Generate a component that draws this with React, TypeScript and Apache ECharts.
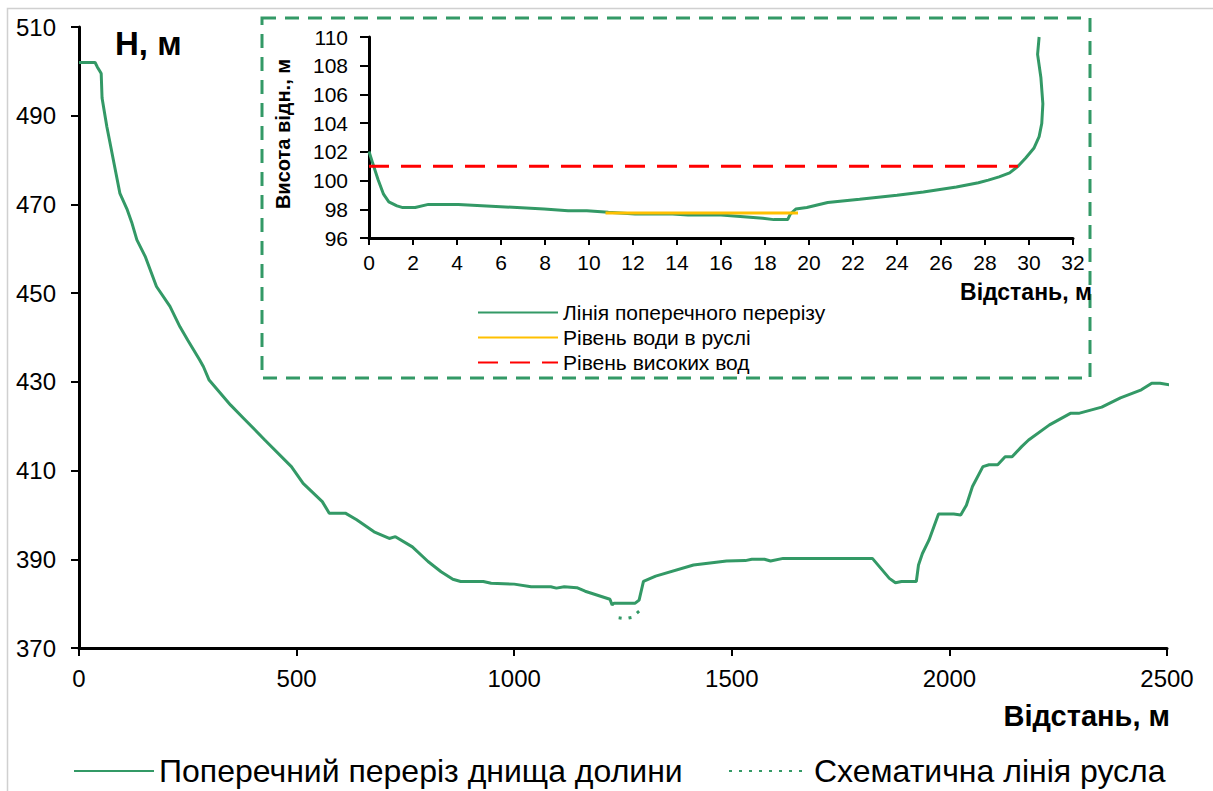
import React, { useEffect, useRef } from "react";
import * as echarts from "echarts";

// ---- Main valley cross-section ----
const valleyDist = [0, 37, 42, 48, 51, 53, 64, 71, 83, 94, 110, 121, 133, 152, 178, 209, 232, 250, 277, 286, 299, 348, 378, 427, 488, 515, 559, 575, 612, 638, 678, 713, 727, 766, 802, 832, 859, 877, 929, 947, 1000, 1039, 1084, 1097, 1115, 1144, 1163, 1220, 1225, 1229, 1278, 1287, 1297, 1325, 1412, 1488, 1531, 1546, 1575, 1589, 1618, 1823, 1862, 1876, 1890, 1924, 1929, 1938, 1953, 1975, 2010, 2026, 2039, 2053, 2077, 2091, 2111, 2128, 2144, 2166, 2182, 2230, 2278, 2297, 2350, 2393, 2441, 2465, 2484, 2508];
const valleyElev = [502, 502, 501, 500, 499.5, 494, 487.5, 484, 478, 472.5, 469, 466, 462, 458.3, 451.5, 447, 442.4, 439.4, 435, 433.4, 430.4, 424.8, 421.8, 416.9, 410.9, 407.1, 403, 400.4, 400.4, 398.9, 396.2, 394.7, 395.1, 392.8, 389.5, 387.2, 385.5, 385, 385, 384.6, 384.4, 383.8, 383.8, 383.5, 383.8, 383.6, 382.8, 381, 379.7, 380.1, 380.1, 380.8, 385, 386.2, 388.7, 389.6, 389.7, 390, 390, 389.6, 390.2, 390.2, 385.7, 384.7, 385, 385, 388.7, 391.3, 394.3, 400.2, 400.2, 400, 402.2, 406.4, 410.9, 411.3, 411.3, 413.1, 413.1, 415.4, 416.9, 420.3, 422.9, 422.9, 424.3, 426.4, 428.2, 429.7, 429.7, 429.3];

// ---- Schematic channel line ----
const channelDist = [1240, 1255, 1270, 1287];
const channelElev = [376.8, 376.6, 376.9, 378.3];

// ---- Inset: channel cross-section ----
const insetDist = [0, 0.17, 0.41, 0.66, 0.9, 1.27, 1.5, 2.1, 2.7, 4.06, 5.77, 7.96, 9.05, 9.9, 10.88, 12.1, 13.8, 14.5, 16, 17.9, 18.4, 19.03, 19.15, 19.4, 19.9, 20.85, 22.3, 24, 25.2, 26.7, 27.7, 28.15, 28.64, 29.12, 29.5, 29.85, 30.22, 30.46, 30.58, 30.63, 30.54, 30.39, 30.46];
const insetElev = [102.03, 101.2, 100.08, 99.05, 98.52, 98.24, 98.13, 98.13, 98.34, 98.34, 98.2, 98.02, 97.9, 97.9, 97.79, 97.67, 97.67, 97.6, 97.6, 97.37, 97.28, 97.28, 97.67, 98.02, 98.13, 98.47, 98.7, 98.98, 99.2, 99.55, 99.85, 100.03, 100.26, 100.54, 101.0, 101.57, 102.25, 103.06, 103.97, 105.35, 107.18, 108.79, 110];
const waterDist = [10.75, 19.5];
const waterElev = [97.75, 97.75];
const floodDist = [0, 29.5];
const floodElev = [101, 101];

// ---- Axes ticks ----
const mainXTicks = { min: 0, max: 2500, interval: 500 };
const mainYTicks = { min: 370, max: 510, interval: 20 };
const insetXTicks = { min: 0, max: 32, interval: 2 };
const insetYTicks = { min: 96, max: 110, interval: 2 };

const names = {
  valley: "Поперечний переріз днища долини",
  channel: "Схематична лінія русла",
  inset: "Лінія поперечного перерізу",
  water: "Рівень води в руслі",
  flood: "Рівень високих вод",
};

const GREEN = "#339966";
const YELLOW = "#FFC000";
const RED = "#FF0000";
const FONT = "Liberation Sans, Arial, sans-serif";

const zip = (a: number[], b: number[]) => a.map((v, i) => [v, b[i]]);
const plain = (v: number) => String(v);

export default function App() {
  const ref = useRef<HTMLDivElement>(null);
  useEffect(() => {
    if (!ref.current) return;
    const chart = echarts.init(ref.current, undefined, { renderer: "svg" });
    const axisCommon = {
      axisLine: { show: true, lineStyle: { color: "#000", width: 3 } },
      axisTick: { show: true, inside: false, length: 8, lineStyle: { color: "#000", width: 2 } },
      splitLine: { show: false },
    };
    const legendCommon = {
      itemWidth: 80,
      itemHeight: 14,
      itemStyle: { opacity: 0 },
      selectedMode: false,
      padding: 0,
    };
    chart.setOption({
      animation: false,
      backgroundColor: "#fff",
      textStyle: { fontFamily: FONT },
      grid: [
        { left: 79, top: 27, right: 46, bottom: 143 },
        { left: 369, top: 37, width: 704, height: 201 },
      ],
      xAxis: [
        {
          type: "value", gridIndex: 0, ...mainXTicks, ...axisCommon,
          axisLabel: { fontSize: 24, color: "#000", margin: 18, fontFamily: FONT, formatter: plain },
        },
        {
          type: "value", gridIndex: 1, ...insetXTicks, ...axisCommon,
          axisTick: { show: true, length: 7, lineStyle: { color: "#000", width: 2 } },
          axisLabel: { fontSize: 21, color: "#000", margin: 14, fontFamily: FONT, formatter: plain },
        },
      ],
      yAxis: [
        {
          type: "value", gridIndex: 0, ...mainYTicks, ...axisCommon,
          axisLabel: { fontSize: 24, color: "#000", margin: 23, fontFamily: FONT, formatter: plain },
        },
        {
          type: "value", gridIndex: 1, ...insetYTicks, ...axisCommon,
          axisTick: { show: true, length: 9, lineStyle: { color: "#000", width: 2 } },
          axisLabel: { fontSize: 21, color: "#000", margin: 21, fontFamily: FONT, formatter: plain },
        },
      ],
      legend: [
        {
          ...legendCommon, left: 73, top: 755,
          data: [names.valley],
          textStyle: { fontSize: 32, color: "#000", fontFamily: FONT },
        },
        {
          ...legendCommon, left: 728, top: 755,
          data: [names.channel],
          textStyle: { fontSize: 32, color: "#000", fontFamily: FONT },
        },
        {
          ...legendCommon, left: 477, top: 302, orient: "vertical", itemHeight: 12, itemGap: 4,
          data: [names.inset, names.water, names.flood],
          textStyle: { fontSize: 21, color: "#000", fontFamily: FONT },
        },
      ],
      series: [
        {
          name: names.valley, type: "line", xAxisIndex: 0, yAxisIndex: 0,
          data: zip(valleyDist, valleyElev), symbol: "none",
          lineStyle: { color: GREEN, width: 3 }, itemStyle: { color: GREEN },
        },
        {
          name: names.channel, type: "line", xAxisIndex: 0, yAxisIndex: 0,
          data: zip(channelDist, channelElev), symbol: "none",
          lineStyle: { color: GREEN, width: 3, type: [3, 7] }, itemStyle: { color: GREEN },
        },
        {
          name: names.inset, type: "line", xAxisIndex: 1, yAxisIndex: 1,
          data: zip(insetDist, insetElev), symbol: "none",
          lineStyle: { color: GREEN, width: 3 }, itemStyle: { color: GREEN },
        },
        {
          name: names.water, type: "line", xAxisIndex: 1, yAxisIndex: 1,
          data: zip(waterDist, waterElev), symbol: "none",
          lineStyle: { color: YELLOW, width: 3 }, itemStyle: { color: YELLOW },
        },
        {
          name: names.flood, type: "line", xAxisIndex: 1, yAxisIndex: 1,
          data: zip(floodDist, floodElev), symbol: "none",
          lineStyle: { color: RED, width: 3, type: [20, 12] }, itemStyle: { color: RED },
        },
      ],
      graphic: [
        {
          type: "rect", silent: true, z: -1,
          shape: { x: 7.5, y: 8.5, width: 1400, height: 1000 },
          style: { fill: "none", stroke: "#d0d0d0", lineWidth: 1.5 },
        },
        {
          type: "rect", silent: true,
          shape: { x: 262, y: 18, width: 828, height: 360 },
          style: { fill: "none", stroke: GREEN, lineWidth: 3, lineDash: [14, 9] },
        },
        {
          type: "text", x: 115, y: 43,
          style: { text: "H, м", font: `bold 33px ${FONT}`, fill: "#000", verticalAlign: "middle" },
        },
        {
          type: "text", x: 1170, y: 716,
          style: { text: "Відстань, м", font: `bold 29px ${FONT}`, fill: "#000", align: "right", verticalAlign: "middle" },
        },
        {
          type: "text", x: 1092, y: 292,
          style: { text: "Відстань, м", font: `bold 23px ${FONT}`, fill: "#000", align: "right", verticalAlign: "middle" },
        },
        {
          type: "text", x: 283, y: 134, rotation: Math.PI / 2,
          style: { text: "Висота відн., м", font: `bold 20px ${FONT}`, fill: "#000", align: "center", verticalAlign: "middle" },
        },
      ],
    });
    return () => chart.dispose();
  }, []);
  return (
    <div
      ref={ref}
      style={{ position: "absolute", left: 0, top: 0, width: 1213, height: 791 }}
    />
  );
}
